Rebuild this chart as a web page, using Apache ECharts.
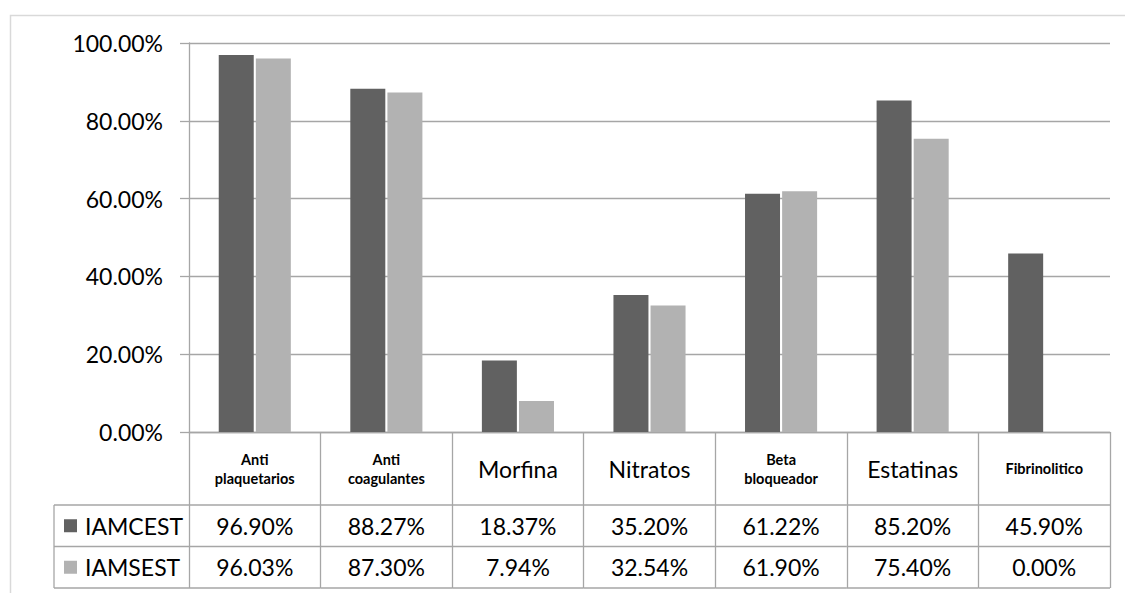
<!DOCTYPE html>
<html>
<head>
<meta charset="utf-8">
<script src="https://cdn.jsdelivr.net/npm/echarts@6/dist/echarts.min.js"></script>
<style>
  html, body { margin: 0; padding: 0; background: #fff; }
  #chart { width: 1125px; height: 593px; }
</style>
</head>
<body>
<div id="chart"></div>
<script>
// Medication use by infarction type (percent of patients)
const categories = ['Anti\nplaquetarios', 'Anti\ncoagulantes', 'Morfina', 'Nitratos', 'Beta\nbloqueador', 'Estatinas', 'Fibrinolitico'];
const seriesNames = ['IAMCEST', 'IAMSEST'];
const iamcest = [96.90, 88.27, 18.37, 35.20, 61.22, 85.20, 45.90];
const iamsest = [96.03, 87.30, 7.94, 32.54, 61.90, 75.40, 0.00];
const yTicks = [0, 20, 40, 60, 80, 100];

const colors = ['#616161', '#b2b2b2'];
const lineColor = '#a6a6a6';
const FONT = 'Lato, "Open Sans", sans-serif';

// Table geometry below the plot (pixel offsets from the category axis)
const headerH = 73;
const rowH = 41.5;
const labelColW = 135;

const fmt = v => v.toFixed(2) + '%';
const isSmallHeader = name => name.indexOf('\n') >= 0 || name.length > 10;

function renderTable(params, api) {
  const i = api.value(0);
  const base = api.coord([i, 0]);
  const cx = base[0];
  const y0 = base[1];
  const bw = api.size([1, 0])[0];
  const xl = cx - bw / 2;
  const xr = cx + bw / 2;
  const rowTops = [y0 + headerH, y0 + headerH + rowH, y0 + headerH + 2 * rowH];
  const vals = [iamcest, iamsest];
  const children = [];
  const line = (x1, y1, x2, y2) => ({
    type: 'line',
    shape: { x1, y1, x2, y2 },
    style: { stroke: lineColor, lineWidth: 1.3 }
  });

  // header cell
  const name = categories[i];
  const small = isSmallHeader(name);
  children.push({
    type: 'text',
    style: {
      text: name,
      x: cx,
      y: y0 + headerH / 2,
      align: 'center',
      verticalAlign: 'middle',
      fill: '#000',
      font: small ? 'bold 14.5px ' + FONT : '23px ' + FONT,
      lineHeight: small ? 19 : 28
    }
  });

  // value cells
  for (let r = 0; r < 2; r++) {
    children.push({
      type: 'text',
      style: {
        text: fmt(vals[r][i]),
        x: cx,
        y: rowTops[r] + rowH / 2,
        align: 'center',
        verticalAlign: 'middle',
        fill: '#000',
        font: '23px ' + FONT
      }
    });
  }

  // horizontal rules
  rowTops.forEach(y => children.push(line(xl, y, xr, y)));

  // legend column on the left of the first category
  if (i === 0) {
    const lx = xl - labelColW;
    rowTops.forEach(y => children.push(line(lx, y, xl, y)));
    children.push(line(lx, rowTops[0], lx, rowTops[2]));
    for (let r = 0; r < 2; r++) {
      const cy = rowTops[r] + rowH / 2;
      children.push({
        type: 'rect',
        shape: { x: lx + 10, y: cy - 6.5, width: 13, height: 13 },
        style: { fill: colors[r] }
      });
      children.push({
        type: 'text',
        style: {
          text: seriesNames[r],
          x: lx + 31,
          y: cy,
          align: 'left',
          verticalAlign: 'middle',
          fill: '#000',
          font: '23px ' + FONT
        }
      });
    }
  }
  return { type: 'group', children };
}

const chart = echarts.init(document.getElementById('chart'), null, { renderer: 'svg' });
chart.setOption({
  animation: false,
  backgroundColor: '#fff',
  textStyle: { fontFamily: FONT },
  graphic: [{
    type: 'rect',
    left: 8, top: 13,
    shape: { width: 1200, height: 700 },
    style: { fill: 'none', stroke: '#d9d9d9', lineWidth: 1.5 },
    silent: true
  }],
  grid: { left: 189, right: 15, top: 43, bottom: 161, containLabel: false },
  xAxis: {
    type: 'category',
    data: categories,
    boundaryGap: true,
    axisLine: { show: true, lineStyle: { color: lineColor, width: 1.3 } },
    axisTick: { show: true, interval: 0, length: headerH + 2 * rowH, lineStyle: { color: lineColor, width: 1.3 } },
    axisLabel: { show: false },
    splitLine: { show: false }
  },
  yAxis: {
    type: 'value',
    min: yTicks[0],
    max: yTicks[yTicks.length - 1],
    interval: 20,
    axisLine: { show: true, lineStyle: { color: lineColor, width: 1.3 } },
    axisTick: { show: true, length: 9, lineStyle: { color: lineColor, width: 1.3 } },
    axisLabel: { formatter: v => fmt(v), color: '#000', fontSize: 23, fontFamily: FONT, margin: 26 },
    splitLine: { show: true, lineStyle: { color: lineColor, width: 1.3 } }
  },
  series: [
    {
      name: seriesNames[0], type: 'bar', data: iamcest,
      barWidth: 35, barGap: '6%',
      itemStyle: { color: colors[0] }
    },
    {
      name: seriesNames[1], type: 'bar', data: iamsest,
      barWidth: 35, barGap: '6%',
      itemStyle: { color: colors[1] }
    },
    {
      name: 'tabla', type: 'custom', clip: false, z: 5, silent: true,
      data: categories.map((c, i) => [i, 0]),
      renderItem: renderTable
    }
  ]
});
</script>
</body>
</html>
